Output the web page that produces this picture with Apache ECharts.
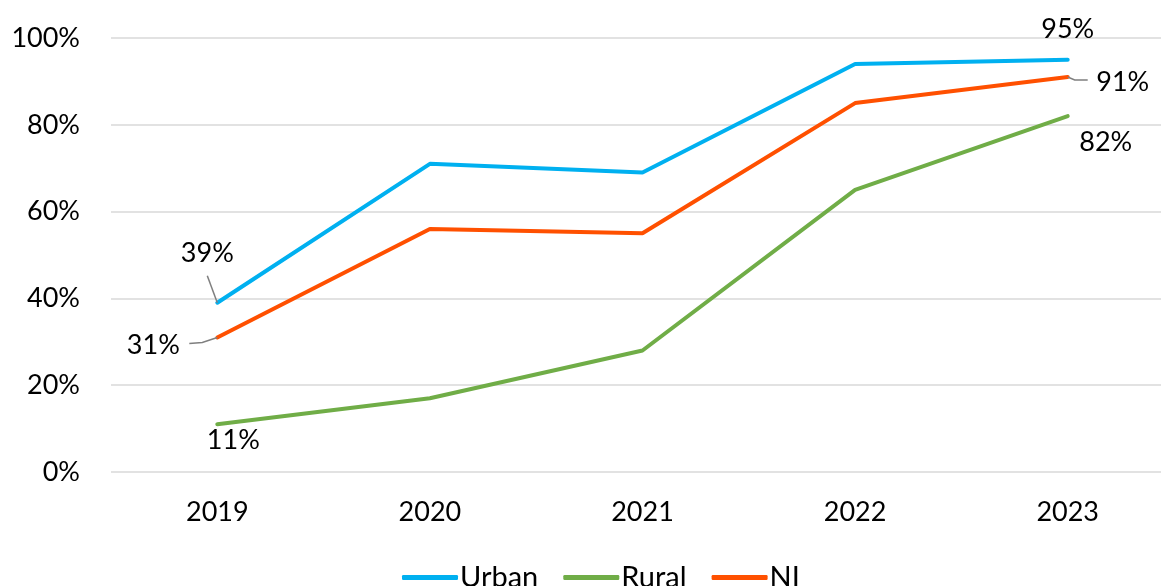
<!DOCTYPE html>
<html>
<head>
<meta charset="utf-8">
<script src="https://cdn.jsdelivr.net/npm/echarts@6/dist/echarts.min.js"></script>
<style>
    html, body { margin: 0; padding: 0; background: #fff; }
    #chart { width: 1161px; height: 586px; }
</style>
</head>
<body>
<div id="chart"></div>
<script>
var years = ['2019', '2020', '2021', '2022', '2023'];
var urban = [39, 71, 69, 94, 95];
var rural = [11, 17, 28, 65, 82];
var ni = [31, 56, 55, 85, 91];

var font = 'Lato, "Noto Sans", sans-serif';

// label offsets from the point (first point, last point) for each series
var labelOffsets = {
    Urban: [[-10, -49], [0, -30]],
    Rural: [[16, 16], [38, 26]],
    NI: [[-64, 8], [55, 5]]
};

// leader lines: series index, data index, bends relative to the point
var leaders = [
    { s: 0, i: 0, bends: [[0, 0], [-10, -27]] },
    { s: 2, i: 0, bends: [[0, 0], [-15, 5], [-28, 6]] },
    { s: 2, i: 4, bends: [[0, 0], [7, 3], [20, 3]] }
];

function withEnds(values, name) {
    var last = values.length - 1;
    return values.map(function (v, i) {
        if (i !== 0 && i !== last) return v;
        return {
            value: v,
            label: { show: true, offset: labelOffsets[name][i === 0 ? 0 : 1] }
        };
    });
}

function lineSeries(name, values, color) {
    return {
        name: name,
        type: 'line',
        data: withEnds(values, name),
        symbol: 'circle',
        symbolSize: 0,
        lineStyle: { width: 4, color: color, cap: 'round' },
        itemStyle: { color: color },
        label: {
            show: false,
            position: 'inside',
            formatter: '{c}%',
            color: '#000',
            fontSize: 27,
            fontFamily: font
        }
    };
}

var seriesValues = [urban, rural, ni];

var chart = echarts.init(document.getElementById('chart'));
chart.setOption({
    animation: false,
    grid: { left: 111, width: 1063, top: 38, bottom: 114, outerBoundsMode: 'none' },
    legend: {
        data: ['Urban', 'Rural', 'NI'],
        left: 397,
        top: 558,
        icon: 'roundRect',
        itemWidth: 56,
        itemHeight: 5,
        itemGap: 25,
        textStyle: { color: '#000', fontSize: 29, fontFamily: font, padding: [0, 0, 0, -3] }
    },
    xAxis: {
        type: 'category',
        data: years,
        boundaryGap: true,
        axisLine: { show: false },
        axisTick: { show: false },
        axisLabel: { color: '#000', fontSize: 27, fontFamily: font, margin: 27 }
    },
    yAxis: {
        type: 'value',
        min: 0,
        max: 100,
        interval: 20,
        axisLine: { show: false },
        axisTick: { show: false },
        axisLabel: { color: '#000', fontSize: 27, fontFamily: font, margin: 31, formatter: '{value}%' },
        splitLine: { lineStyle: { color: '#d9d9d9', width: 1.5 } }
    },
    series: [
        lineSeries('Urban', urban, '#00b0f0'),
        lineSeries('Rural', rural, '#70ad47'),
        lineSeries('NI', ni, '#ff5000')
    ]
});

// gray leader lines from the points to their labels
chart.setOption({
    graphic: leaders.map(function (l) {
        var p = chart.convertToPixel({ seriesIndex: l.s }, [l.i, seriesValues[l.s][l.i]]);
        return {
            type: 'polyline',
            z: 5,
            shape: { points: l.bends.map(function (b) { return [p[0] + b[0], p[1] + b[1]]; }) },
            style: { stroke: '#7f7f7f', lineWidth: 1.5, fill: null }
        };
    })
});
</script>
</body>
</html>
